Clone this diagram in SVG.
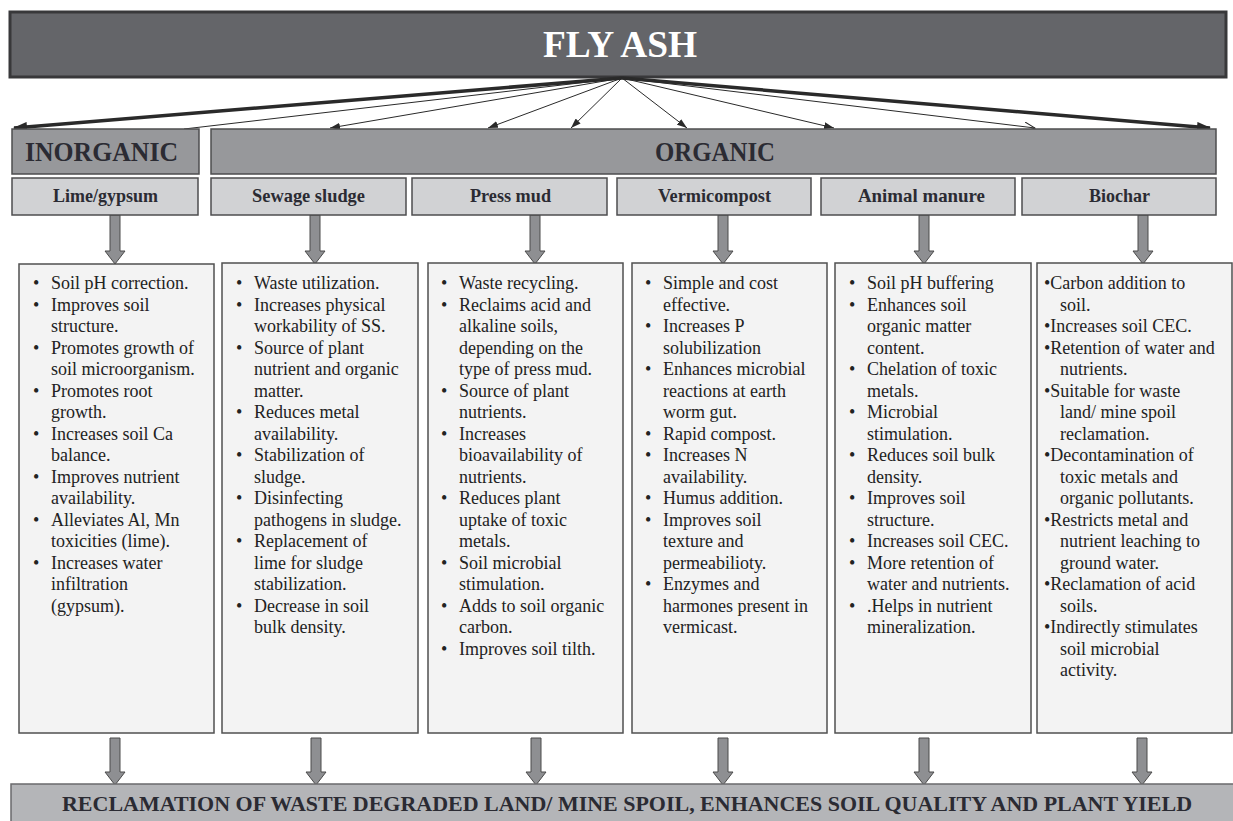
<svg xmlns="http://www.w3.org/2000/svg" xmlns:xlink="http://www.w3.org/1999/xlink" width="1233" height="821" viewBox="0 0 1233 821">
<style>
  .hdr{font-family:"Liberation Serif",serif;font-weight:bold;fill:#2b2b33;text-anchor:middle}
  .body{font-family:"Liberation Serif",serif;font-size:18px;fill:#222}
  .sub{fill:#d1d2d4;stroke:#4d4d4f;stroke-width:1.5}
  .cat{fill:#97989b;stroke:#4d4d4f;stroke-width:1.5}
  .box{fill:#f3f3f3;stroke:#505050;stroke-width:1.5}
  .blk{fill:#8e8f92;stroke:#4a4a4a;stroke-width:1}
  .thin{stroke:#2a2a2a;stroke-width:1;fill:none}
  .thick{stroke:#2a2a2a;stroke-width:3.5;fill:none}
</style>
<defs>
  <marker id="hf" viewBox="0 0 10 7" refX="10" refY="3.5" markerWidth="10" markerHeight="7" markerUnits="userSpaceOnUse" orient="auto">
    <path d="M0,0 L10,3.5 L0,7 Z" fill="#2a2a2a"/>
  </marker>
  <marker id="ht" viewBox="0 0 14 10" refX="13" refY="5" markerWidth="14" markerHeight="10" markerUnits="userSpaceOnUse" orient="auto">
    <path d="M0,0 L14,5 L0,10 Z" fill="#2a2a2a"/>
  </marker>
  <marker id="ho" viewBox="0 0 12 10" refX="11" refY="5" markerWidth="12" markerHeight="10" markerUnits="userSpaceOnUse" orient="auto">
    <path d="M0,0 L11,5 L0,10" fill="none" stroke="#2a2a2a" stroke-width="1"/>
  </marker>
  <path id="barTop" class="blk" d="M-5,0 H5 V36 H10 L0,49 L-10,36 H-5 Z"/>
  <path id="barBot" class="blk" d="M-5,0 H5 V34 H10 L0,47 L-10,34 H-5 Z"/>
</defs>

<rect width="1233" height="821" fill="#ffffff"/>

<g id="flyash">
  <rect x="10" y="12" width="1216" height="65" fill="#646569" stroke="#38383a" stroke-width="3"/>
  <text x="620" y="57" class="hdr" font-size="38" style="fill:#ffffff" textLength="154" lengthAdjust="spacingAndGlyphs">FLY ASH</text>
</g>

<g id="connectors">
  <line class="thick" x1="622" y1="78" x2="14" y2="128" marker-end="url(#ht)"/>
  <line class="thick" x1="622" y1="78" x2="1210" y2="128" marker-end="url(#ht)"/>
  <line class="thin" x1="622" y1="78" x2="184" y2="129"/>
  <line class="thin" x1="622" y1="78" x2="330" y2="128" marker-end="url(#hf)"/>
  <line class="thin" x1="622" y1="78" x2="488" y2="128" marker-end="url(#hf)"/>
  <line class="thin" x1="622" y1="78" x2="571" y2="128" marker-end="url(#hf)"/>
  <line class="thin" x1="622" y1="78" x2="687" y2="128" marker-end="url(#hf)"/>
  <line class="thin" x1="622" y1="78" x2="834" y2="128" marker-end="url(#hf)"/>
  <line class="thin" x1="622" y1="78" x2="1035" y2="128" marker-end="url(#ho)"/>
  <use href="#barTop" x="115" y="215"/>
  <use href="#barTop" x="315" y="215"/>
  <use href="#barTop" x="535" y="215"/>
  <use href="#barTop" x="723" y="215"/>
  <use href="#barTop" x="924" y="215"/>
  <use href="#barTop" x="1143" y="215"/>
  <use href="#barBot" x="115" y="738"/>
  <use href="#barBot" x="316" y="738"/>
  <use href="#barBot" x="536" y="738"/>
  <use href="#barBot" x="723" y="738"/>
  <use href="#barBot" x="924" y="738"/>
  <use href="#barBot" x="1142" y="738"/>
</g>

<g id="inorganic">
  <rect class="cat" x="12" y="129" width="187" height="45"/>
  <text x="101.5" y="161" class="hdr" font-size="28" textLength="153" lengthAdjust="spacingAndGlyphs">INORGANIC</text>
</g>
<g id="organic">
  <rect class="cat" x="211" y="129" width="1005" height="45"/>
  <text x="715" y="161" class="hdr" font-size="28" textLength="120" lengthAdjust="spacingAndGlyphs">ORGANIC</text>
</g>

<g id="lime">
  <rect class="sub" x="12" y="178" width="186" height="37"/>
  <text x="105.5" y="202" class="hdr" font-size="19" textLength="105" lengthAdjust="spacingAndGlyphs">Lime/gypsum</text>
  <rect class="box" x="19" y="264" width="195" height="469"/>
  <g class="body">
    <text x="33" y="289">•</text><text x="51" y="289">Soil pH correction.</text>
    <text x="33" y="310.5">•</text><text x="51" y="310.5">Improves soil</text>
    <text x="51" y="332">structure.</text>
    <text x="33" y="353.5">•</text><text x="51" y="353.5">Promotes growth of</text>
    <text x="51" y="375">soil microorganism.</text>
    <text x="33" y="396.5">•</text><text x="51" y="396.5">Promotes root</text>
    <text x="51" y="418">growth.</text>
    <text x="33" y="439.5">•</text><text x="51" y="439.5">Increases soil Ca</text>
    <text x="51" y="461">balance.</text>
    <text x="33" y="482.5">•</text><text x="51" y="482.5">Improves nutrient</text>
    <text x="51" y="504">availability.</text>
    <text x="33" y="525.5">•</text><text x="51" y="525.5">Alleviates Al, Mn</text>
    <text x="51" y="547">toxicities (lime).</text>
    <text x="33" y="568.5">•</text><text x="51" y="568.5">Increases water</text>
    <text x="51" y="590">infiltration</text>
    <text x="51" y="611.5">(gypsum).</text>
  </g>
</g>

<g id="sewage">
  <rect class="sub" x="211" y="178" width="195" height="37"/>
  <text x="308.5" y="202" class="hdr" font-size="19" textLength="113" lengthAdjust="spacingAndGlyphs">Sewage sludge</text>
  <rect class="box" x="222" y="263" width="196" height="470"/>
  <g class="body">
    <text x="236" y="289">•</text><text x="254" y="289">Waste utilization.</text>
    <text x="236" y="310.5">•</text><text x="254" y="310.5">Increases physical</text>
    <text x="254" y="332">workability of SS.</text>
    <text x="236" y="353.5">•</text><text x="254" y="353.5">Source of plant</text>
    <text x="254" y="375">nutrient and organic</text>
    <text x="254" y="396.5">matter.</text>
    <text x="236" y="418">•</text><text x="254" y="418">Reduces metal</text>
    <text x="254" y="439.5">availability.</text>
    <text x="236" y="461">•</text><text x="254" y="461">Stabilization of</text>
    <text x="254" y="482.5">sludge.</text>
    <text x="236" y="504">•</text><text x="254" y="504">Disinfecting</text>
    <text x="254" y="525.5">pathogens in sludge.</text>
    <text x="236" y="547">•</text><text x="254" y="547">Replacement of</text>
    <text x="254" y="568.5">lime for sludge</text>
    <text x="254" y="590">stabilization.</text>
    <text x="236" y="611.5">•</text><text x="254" y="611.5">Decrease in soil</text>
    <text x="254" y="633">bulk density.</text>
  </g>
</g>

<g id="pressmud">
  <rect class="sub" x="412" y="178" width="195" height="37"/>
  <text x="510.5" y="202" class="hdr" font-size="19" textLength="81" lengthAdjust="spacingAndGlyphs">Press mud</text>
  <rect class="box" x="428" y="263" width="195" height="470"/>
  <g class="body">
    <text x="441" y="289">•</text><text x="459" y="289">Waste recycling.</text>
    <text x="441" y="310.5">•</text><text x="459" y="310.5">Reclaims acid and</text>
    <text x="459" y="332">alkaline soils,</text>
    <text x="459" y="353.5">depending on the</text>
    <text x="459" y="375">type of press mud.</text>
    <text x="441" y="396.5">•</text><text x="459" y="396.5">Source of plant</text>
    <text x="459" y="418">nutrients.</text>
    <text x="441" y="439.5">•</text><text x="459" y="439.5">Increases</text>
    <text x="459" y="461">bioavailability of</text>
    <text x="459" y="482.5">nutrients.</text>
    <text x="441" y="504">•</text><text x="459" y="504">Reduces plant</text>
    <text x="459" y="525.5">uptake of toxic</text>
    <text x="459" y="547">metals.</text>
    <text x="441" y="568.5">•</text><text x="459" y="568.5">Soil microbial</text>
    <text x="459" y="590">stimulation.</text>
    <text x="441" y="611.5">•</text><text x="459" y="611.5">Adds to soil organic</text>
    <text x="459" y="633">carbon.</text>
    <text x="441" y="654.5">•</text><text x="459" y="654.5">Improves soil tilth.</text>
  </g>
</g>

<g id="vermicompost">
  <rect class="sub" x="617" y="178" width="194" height="37"/>
  <text x="714.5" y="202" class="hdr" font-size="19" textLength="113" lengthAdjust="spacingAndGlyphs">Vermicompost</text>
  <rect class="box" x="632" y="263" width="195" height="470"/>
  <g class="body">
    <text x="645" y="289">•</text><text x="663" y="289">Simple and cost</text>
    <text x="663" y="310.5">effective.</text>
    <text x="645" y="332">•</text><text x="663" y="332">Increases P</text>
    <text x="663" y="353.5">solubilization</text>
    <text x="645" y="375">•</text><text x="663" y="375">Enhances microbial</text>
    <text x="663" y="396.5">reactions at earth</text>
    <text x="663" y="418">worm gut.</text>
    <text x="645" y="439.5">•</text><text x="663" y="439.5">Rapid compost.</text>
    <text x="645" y="461">•</text><text x="663" y="461">Increases N</text>
    <text x="663" y="482.5">availability.</text>
    <text x="645" y="504">•</text><text x="663" y="504">Humus addition.</text>
    <text x="645" y="525.5">•</text><text x="663" y="525.5">Improves soil</text>
    <text x="663" y="547">texture and</text>
    <text x="663" y="568.5">permeabilioty.</text>
    <text x="645" y="590">•</text><text x="663" y="590">Enzymes and</text>
    <text x="663" y="611.5">harmones present in</text>
    <text x="663" y="633">vermicast.</text>
  </g>
</g>

<g id="manure">
  <rect class="sub" x="821" y="178" width="194" height="37"/>
  <text x="921.5" y="202" class="hdr" font-size="19" textLength="127" lengthAdjust="spacingAndGlyphs">Animal manure</text>
  <rect class="box" x="835" y="263" width="196" height="470"/>
  <g class="body">
    <text x="849" y="289">•</text><text x="867" y="289">Soil pH buffering</text>
    <text x="849" y="310.5">•</text><text x="867" y="310.5">Enhances soil</text>
    <text x="867" y="332">organic matter</text>
    <text x="867" y="353.5">content.</text>
    <text x="849" y="375">•</text><text x="867" y="375">Chelation of toxic</text>
    <text x="867" y="396.5">metals.</text>
    <text x="849" y="418">•</text><text x="867" y="418">Microbial</text>
    <text x="867" y="439.5">stimulation.</text>
    <text x="849" y="461">•</text><text x="867" y="461">Reduces soil bulk</text>
    <text x="867" y="482.5">density.</text>
    <text x="849" y="504">•</text><text x="867" y="504">Improves soil</text>
    <text x="867" y="525.5">structure.</text>
    <text x="849" y="547">•</text><text x="867" y="547">Increases soil CEC.</text>
    <text x="849" y="568.5">•</text><text x="867" y="568.5">More retention of</text>
    <text x="867" y="590">water and nutrients.</text>
    <text x="849" y="611.5">•</text><text x="867" y="611.5">.Helps in nutrient</text>
    <text x="867" y="633">mineralization.</text>
  </g>
</g>

<g id="biochar">
  <rect class="sub" x="1022" y="178" width="194" height="37"/>
  <text x="1119.5" y="202" class="hdr" font-size="19" textLength="61" lengthAdjust="spacingAndGlyphs">Biochar</text>
  <rect class="box" x="1037" y="263" width="195" height="470"/>
  <g class="body">
    <text x="1044" y="289">•Carbon addition to</text>
    <text x="1060" y="310.5">soil.</text>
    <text x="1044" y="332">•Increases soil CEC.</text>
    <text x="1044" y="353.5">•Retention of water and</text>
    <text x="1060" y="375">nutrients.</text>
    <text x="1044" y="396.5">•Suitable for waste</text>
    <text x="1060" y="418">land/ mine spoil</text>
    <text x="1060" y="439.5">reclamation.</text>
    <text x="1044" y="461">•Decontamination of</text>
    <text x="1060" y="482.5">toxic metals and</text>
    <text x="1060" y="504">organic pollutants.</text>
    <text x="1044" y="525.5">•Restricts metal and</text>
    <text x="1060" y="547">nutrient leaching to</text>
    <text x="1060" y="568.5">ground water.</text>
    <text x="1044" y="590">•Reclamation of acid</text>
    <text x="1060" y="611.5">soils.</text>
    <text x="1044" y="633">•Indirectly stimulates</text>
    <text x="1060" y="654.5">soil microbial</text>
    <text x="1060" y="676">activity.</text>
  </g>
</g>

<g id="result">
  <rect x="11" y="784" width="1230" height="45" fill="#b4b5b8" stroke="#6a6a6c" stroke-width="1.5"/>
  <text x="627" y="811" class="hdr" font-size="22" textLength="1130" lengthAdjust="spacingAndGlyphs">RECLAMATION OF WASTE DEGRADED LAND/ MINE SPOIL, ENHANCES SOIL QUALITY AND PLANT YIELD</text>
</g>
</svg>
